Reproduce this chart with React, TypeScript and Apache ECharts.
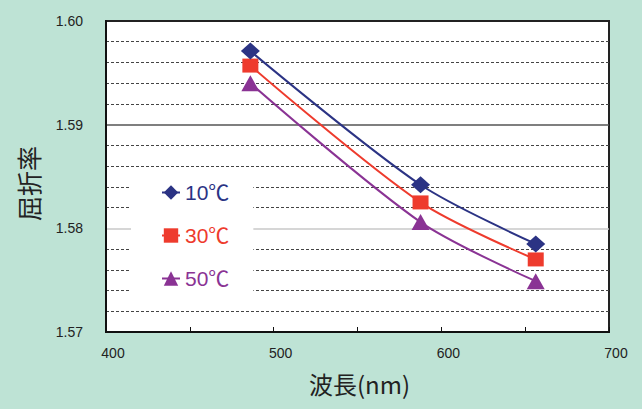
import React, { useEffect, useRef } from "react";
import * as echarts from "echarts";

const wavelengths = [486.1, 587.6, 656.3];
const seriesNames = ["10℃", "30℃", "50℃"];
const values10 = [1.5971, 1.5842, 1.5785];
const values30 = [1.5957, 1.5825, 1.577];
const values50 = [1.594, 1.5806, 1.5749];
const colors = ["#2b3384", "#ee3b2d", "#8a3394"];
const symbols = ["diamond", "rect", "triangle"];
const symbolSizes: any[] = [[19, 17], [16, 14], [18, 16]];

export default function App() {
  const ref = useRef<HTMLDivElement>(null);
  useEffect(() => {
    document.body.style.margin = "0";
    const chart = echarts.init(ref.current!, null, { renderer: "svg" });
    const all = [values10, values30, values50];
    const font = "'Liberation Sans', Arial, 'Noto Sans CJK JP', sans-serif";
    chart.setOption({
      animation: false,
      backgroundColor: "#bee3d5",
      grid: {
        left: 106,
        top: 21,
        right: 33,
        bottom: 77,
        show: true,
        backgroundColor: "#ffffff",
        borderColor: "#222",
        borderWidth: 2,
      },
      legend: {
        orient: "vertical",
        left: 131,
        top: 172,
        padding: [10, 24, 12, 30],
        backgroundColor: "#ffffff",
        itemWidth: 18,
        itemHeight: 18,
        itemGap: 22,
        textStyle: { fontSize: 21, fontFamily: font },
        data: seriesNames.map((n, i) => ({
          name: n,
          textStyle: { color: colors[i] },
        })),
      },
      xAxis: {
        type: "value",
        min: 400,
        max: 700,
        interval: 50,
        name: "波長(nm)",
        nameLocation: "middle",
        nameGap: 39,
        nameTextStyle: {
          fontSize: 24,
          color: "#222",
          fontFamily: "'Noto Sans CJK JP', sans-serif",
          padding: [0, 0, 0, 4],
        },
        axisLine: { show: true, lineStyle: { color: "#111", width: 2 } },
        axisTick: { show: true, inside: true, length: 5, lineStyle: { color: "#111" } },
        axisLabel: {
          fontSize: 14,
          color: "#222",
          fontFamily: font,
          margin: 14,
          padding: [0, 0, 0, 14],
          formatter: (v: number) => (v % 100 === 0 ? String(v) : ""),
        },
        splitLine: { show: false },
      },
      yAxis: {
        type: "value",
        min: 1.57,
        max: 1.6,
        interval: 0.01,
        name: "屈折率",
        nameLocation: "middle",
        nameRotate: 90,
        nameGap: 66,
        nameTextStyle: {
          fontSize: 25,
          color: "#222",
          fontFamily: "'Noto Sans CJK JP', sans-serif",
          padding: [0, 14, 0, 0],
        },
        axisLine: { show: true, lineStyle: { color: "#111", width: 2 } },
        axisTick: { show: false },
        axisLabel: {
          fontSize: 14,
          color: "#222",
          fontFamily: font,
          margin: 23,
          padding: [7, 0, 0, 0],
          formatter: (v: number) => v.toFixed(2),
        },
        splitLine: {
          show: true,
          lineStyle: { color: ["#111", "#c8c8c8", "#555", "#222"], width: 1.5 },
        },
        minorTick: { show: false, splitNumber: 5 },
        minorSplitLine: {
          show: true,
          lineStyle: { color: "#444", type: [3, 2], width: 1 },
        },
      },
      series: all.map((vals, i) => ({
        name: seriesNames[i],
        type: "line",
        smooth: 0.3,
        data: wavelengths.map((w, j) => [w, vals[j]]),
        symbol: symbols[i],
        symbolSize: symbolSizes[i],
        showAllSymbol: true,
        lineStyle: { color: colors[i], width: 2 },
        itemStyle: { color: colors[i] },
        z: 3 - i + 2,
      })),
    });
    return () => chart.dispose();
  }, []);
  return (
    <div
      ref={ref}
      style={{ position: "fixed", left: 0, top: 0, width: 642, height: 409 }}
    />
  );
}
